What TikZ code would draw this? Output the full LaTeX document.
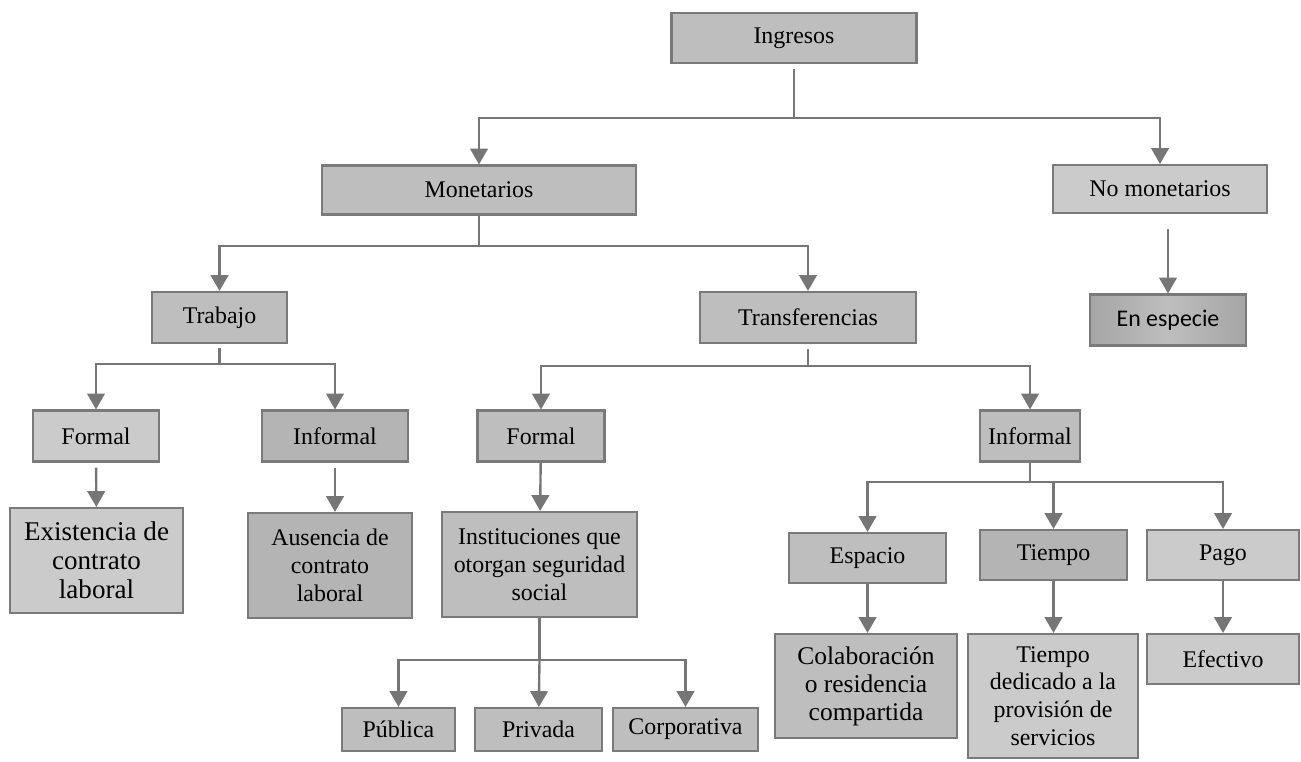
\documentclass[tikz,border=0pt]{standalone}
\usepackage{fontspec}
\setmainfont{Liberation Serif}
\newfontfamily\carlitofont{Carlito}
\usetikzlibrary{arrows.meta,calc}
\definecolor{boxgray}{RGB}{190,190,190}
\definecolor{boxlight}{RGB}{203,203,203}
\definecolor{boxdark}{RGB}{180,180,180}
\definecolor{boxshade}{RGB}{165,165,165}
\definecolor{edgegray}{RGB}{122,122,122}
\definecolor{linegray}{RGB}{118,118,118}

\begin{document}
\begin{tikzpicture}[x=0.02cm, y=-0.02cm,
  box/.style={draw=edgegray, line width=1.2pt, fill=boxgray, align=center, inner sep=0pt, font=\fontsize{13.6}{15.8}\selectfont},
  lbox/.style={box, fill=boxlight},
  dbox/.style={box, fill=boxdark},
  wh/.style 2 args={minimum width=#1*0.02cm, minimum height=#2*0.02cm},
  link/.style={draw=linegray, line width=1.35pt},
  arrow/.style={link, -{Triangle[width=10pt,length=9pt]}}
]
  \useasboundingbox (0,0) rectangle (1301,761);

  % top levels
  \node[box, wh={245}{50}] (ing) at (794,38) {Ingresos};
  \node[box, wh={314}{49}] (mon) at (479,190) {Monetarios};
  \node[lbox, wh={214}{48}] (nomon) at (1160,189) {No monetarios};
  \node[box, wh={135}{51}] (trab) at (219.5,317.5) {Trabajo};
  \node[box, wh={216}{51}] (transf) at (808,317.5) {Transferencias};
  \node[box, wh={156}{51}, left color=boxshade, right color=boxshade, middle color=boxgray,
        font=\carlitofont\fontsize{13.6}{15.8}\selectfont] (espe) at (1168,320) {En especie};

  % trabajo
  \node[lbox, wh={126}{51}] (tfor) at (96,436) {Formal};
  \node[dbox, wh={146}{51}] (tinf) at (335,436) {Informal};
  \node[lbox, wh={173}{105}, font=\fontsize{15.4}{16.6}\selectfont] (exist) at (96.5,560.5) {Existencia de\\contrato\\laboral};
  \node[dbox, wh={164}{105}] (ausen) at (330,565.5) {Ausencia de\\contrato\\laboral};

  % transferencias
  \node[box, wh={127}{51}] (ffor) at (541,436) {Formal};
  \node[box, wh={100}{51}] (finf) at (1030,436) {Informal};
  \node[box, wh={195}{105}] (inst) at (539.5,564.5) {Instituciones que\\otorgan seguridad\\social};
  \node[box, wh={113}{43}] (pub) at (398.5,729.5) {Pública};
  \node[box, wh={127}{43}] (priv) at (538.5,729.5) {Privada};
  \node[box, wh={145}{43}] (corp) at (685.5,729.5) {Corporativa};
  \node[box, wh={157}{50}] (espa) at (867.5,558) {Espacio};
  \node[dbox, wh={147}{50}] (tiem) at (1053.5,555) {Tiempo};
  \node[lbox, wh={152}{50}] (pago) at (1223,555) {Pago};
  \node[box, wh={182}{104}, font=\fontsize{14.5}{16}\selectfont] (colab) at (866,686) {Colaboración\\o residencia\\compartida};
  \node[lbox, wh={170}{124}] (tded) at (1053,696) {Tiempo\\dedicado a la\\provisión de\\servicios};
  \node[lbox, wh={152}{50}] (efec) at (1223,659) {Efectivo};

  % junctions
  \coordinate (jing) at (794,118);
  \coordinate (jmon) at (479,246);
  \coordinate (jtrab) at (219.5,364);
  \coordinate (jtransf) at (808,366);
  \coordinate (jinst) at (539.5,660);
  \coordinate (jfinf) at (1030,482);

  \draw[link, shorten <=0.1cm] (ing) -- (jing);
  \draw[arrow] (jing) -| (mon);
  \draw[arrow] (jing) -| (nomon);
  \draw[arrow, shorten <=0.3cm] (espe.north |- nomon.south) -- (espe.north);

  \draw[link] (mon) -- (jmon);
  \draw[arrow] (jmon) -| (trab);
  \draw[arrow] (jmon) -| (transf);

  \draw[link, shorten <=0.08cm] (trab) -- (jtrab);
  \draw[arrow] (jtrab) -| (tfor);
  \draw[arrow] (jtrab) -| (tinf);
  \draw[arrow, shorten <=0.1cm] (tfor) -- (exist);
  \draw[arrow, shorten <=0.1cm] (tinf.south) -- (tinf.south |- ausen.north);

  \draw[link, shorten <=0.1cm] (transf) -- (jtransf);
  \draw[arrow] (jtransf) -| (ffor);
  \draw[arrow] (jtransf) -| (finf);
  \draw[arrow] (ffor) -- (inst);

  \draw[link] (inst) -- (jinst);
  \draw[arrow] (jinst) -| (pub);
  \draw[arrow] (jinst) -- (priv);
  \draw[arrow] (jinst) -| (corp);

  \draw[link] (finf) -- (jfinf);
  \draw[arrow] (jfinf) -| (espa);
  \draw[arrow] (jfinf) -| (tiem);
  \draw[arrow] (jfinf) -| (pago);
  \draw[arrow] (espa.south) -- (espa.south |- colab.north);
  \draw[arrow] (tiem.south) -- (tiem.south |- tded.north);
  \draw[arrow] (pago) -- (efec);
\end{tikzpicture}
\end{document}
